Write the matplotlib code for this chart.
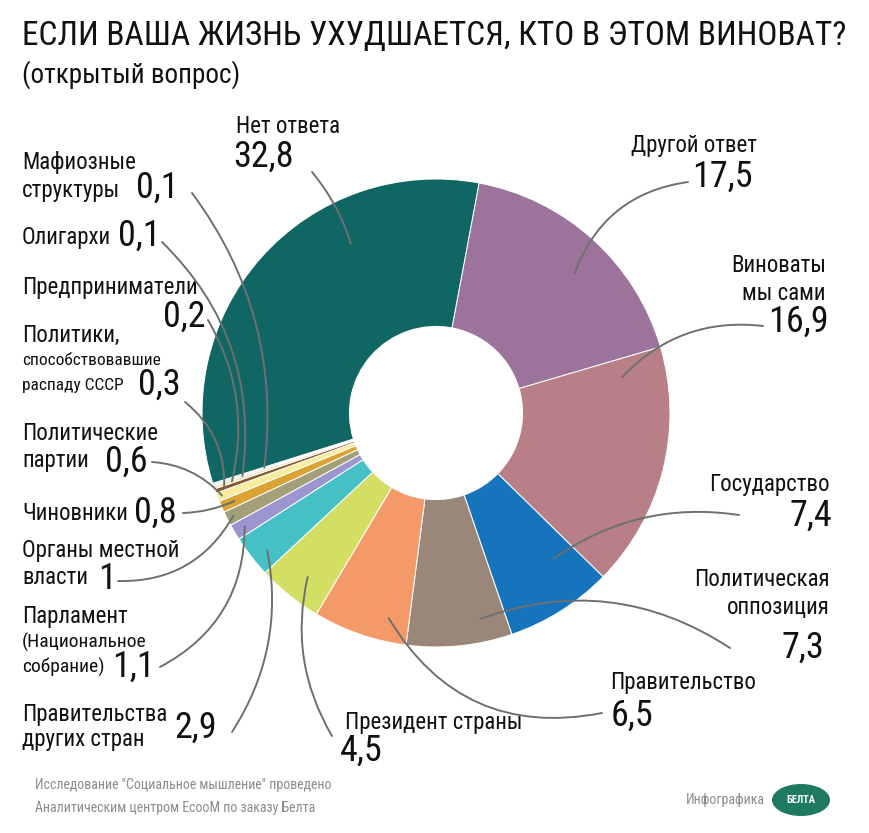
import numpy as np
import matplotlib
matplotlib.use("Agg")
import matplotlib.pyplot as plt
from matplotlib import font_manager
from matplotlib.patches import Ellipse

W, H = 870, 833

names = {f.name for f in font_manager.fontManager.ttflist}
FONT = 'DejaVu Sans'
for cand in ['Liberation Sans Narrow', 'Roboto Condensed', 'Open Sans Condensed', 'Roboto']:
    if cand in names:
        FONT = cand
        break
plt.rcParams['font.family'] = [FONT, 'DejaVu Sans']

# data, clockwise from the top
categories = ["Другой ответ", "Виноваты мы сами", "Государство", "Политическая оппозиция",
              "Правительство", "Президент страны", "Правительства других стран",
              "Парламент (Национальное собрание)", "Органы местной власти", "Чиновники",
              "Политические партии", "Политики, способствовавшие распаду СССР",
              "Предприниматели", "Олигархи", "Мафиозные структуры", "Нет ответа"]
values = [17.5, 16.9, 7.4, 7.3, 6.5, 4.5, 2.9, 1.1, 1.0, 0.8, 0.6, 0.3, 0.2, 0.1, 0.1, 32.8]
value_labels = ["17,5", "16,9", "7,4", "7,3", "6,5", "4,5", "2,9", "1,1", "1", "0,8",
                "0,6", "0,3", "0,2", "0,1", "0,1", "32,8"]
colors = ["#9b739b", "#b97f87", "#1574bc", "#9b877a", "#f49a69", "#d2df63", "#45c1c6",
          "#9c95cf", "#a39f78", "#dba234", "#f8ec9e", "#8a5a2a", "#efe4bc", "#c9cbc0",
          "#b5d3d6", "#106662"]

fig = plt.figure(figsize=(W / 100, H / 100), dpi=100)
ax = fig.add_axes([0, 0, 1, 1])

cx, cy, R = 436, H - 413, 234
wedges, _ = ax.pie(values, colors=colors, startangle=79.4, counterclock=False,
                   center=(cx, cy), radius=R, frame=False,
                   wedgeprops=dict(width=R * 0.63, edgecolor='white', linewidth=0.7))
ax.set_xlim(0, W)
ax.set_ylim(0, H)
ax.set_aspect('equal')
ax.axis('off')


def py(y):
    return H - y


def anchor(i, f, rf):
    w = wedges[i]
    th = np.radians(w.theta2 - f * (w.theta2 - w.theta1))
    return cx + rf * R * np.cos(th), cy + rf * R * np.sin(th)


LINE = '#6e7070'


def leader(i, start, f, rf, rad):
    ax.annotate('', xy=anchor(i, f, rf), xytext=(start[0], py(start[1])),
                arrowprops=dict(arrowstyle='-', color=LINE, lw=1.4,
                                connectionstyle=f'arc3,rad={rad}',
                                shrinkA=0, shrinkB=0))


LAB = 16.5
NUM = 26


def txt(x, y, s, size=LAB, ha='left', **kw):
    ax.text(x, py(y), s, fontsize=size, ha=ha, va='center', color='#111111', **kw)


# title
txt(22, 36, "ЕСЛИ ВАША ЖИЗНЬ УХУДШАЕТСЯ, КТО В ЭТОМ ВИНОВАТ?", size=24)
txt(22, 75, "(открытый вопрос)", size=19.5)

# right side labels
txt(236, 126, "Нет ответа")
txt(233, 157, value_labels[15], size=NUM)
leader(15, (312, 172), 0.684, 0.81, -0.1)

txt(757, 145, "Другой ответ", ha='right')
txt(753, 177, value_labels[0], size=NUM, ha='right')
leader(0, (688, 182), 0.543, 0.84, 0.3)

txt(826, 265, "Виноваты", ha='right')
txt(826, 293, "мы сами", ha='right')
txt(829, 322, value_labels[1], size=NUM, ha='right')
leader(1, (763, 326), 0.09, 0.81, 0.25)

txt(830, 485, "Государство", ha='right')
txt(832, 516, value_labels[2], size=NUM, ha='right')
leader(2, (739, 515), 0.25, 0.80, 0.2)

txt(830, 580, "Политическая", ha='right')
txt(830, 608, "оппозиция", ha='right')
txt(824, 648, value_labels[3], size=NUM, ha='right')
leader(3, (730, 648), 0.26, 0.90, 0.25)

txt(610, 683, "Правительство")
txt(611, 716, value_labels[4], size=NUM)
leader(4, (602, 713), 0.24, 0.90, -0.35)

txt(345, 723, "Президент страны")
txt(340, 751, value_labels[5], size=NUM)
leader(5, (332, 736), 0.45, 0.89, -0.2)

# left side labels
txt(22, 715, "Правительства")
txt(22, 740, "других стран")
txt(174, 728, value_labels[6], size=NUM)
leader(6, (232, 732), 0.37, 0.93, 0.2)

txt(22, 617, "Парламент")
txt(22, 642, "(Национальное", size=14)
txt(22, 667, "собрание)", size=14)
txt(112, 667, value_labels[7], size=NUM)
leader(7, (160, 667), 0.5, 0.95, 0.3)

txt(22, 550, "Органы местной")
txt(22, 578, "власти")
txt(98, 579, value_labels[8], size=NUM)
leader(8, (118, 581), 0.5, 0.97, 0.3)

txt(22, 513, "Чиновники")
txt(134, 513, value_labels[9], size=NUM)
leader(9, (183, 513), 0.5, 0.94, 0.1)

txt(22, 433, "Политические")
txt(22, 461, "партии")
txt(105, 462, value_labels[10], size=NUM)
leader(10, (152, 462), 0.5, 0.98, -0.2)

txt(22, 335, "Политики,")
txt(22, 360, "способствовавшие", size=12.5)
txt(22, 385, "распаду СССР", size=12.5)
txt(138, 385, value_labels[11], size=NUM)
leader(11, (185, 402), 0.5, 0.96, -0.25)

txt(22, 287, "Предприниматели")
txt(206, 317, value_labels[12], size=NUM, ha='right')
leader(12, (208, 320), 0.5, 0.92, -0.2)

txt(22, 237, "Олигархи")
txt(118, 236, value_labels[13], size=NUM)
leader(13, (162, 242), 0.5, 0.87, -0.25)

txt(22, 162, "Мафиозные")
txt(22, 190, "структуры")
txt(136, 188, value_labels[14], size=NUM)
leader(14, (192, 193), 0.5, 0.77, -0.2)

# footer
ax.text(35, py(785), 'Исследование "Социальное мышление" проведено', fontsize=10,
        color='#8c8c8c', va='center')
ax.text(35, py(808), 'Аналитическим центром EcooM по заказу Белта', fontsize=10,
        color='#8c8c8c', va='center')
ax.text(765, py(800), 'Инфографика', fontsize=10, color='#8c8c8c', va='center', ha='right')
ax.add_patch(Ellipse((801, py(800)), 58, 32, facecolor='#1e7a62', edgecolor='none'))
ax.text(801, py(800), 'БЕЛТА', fontsize=7.5, color='white', ha='center', va='center',
        fontweight='bold')

fig.savefig('out.png', dpi=100)
